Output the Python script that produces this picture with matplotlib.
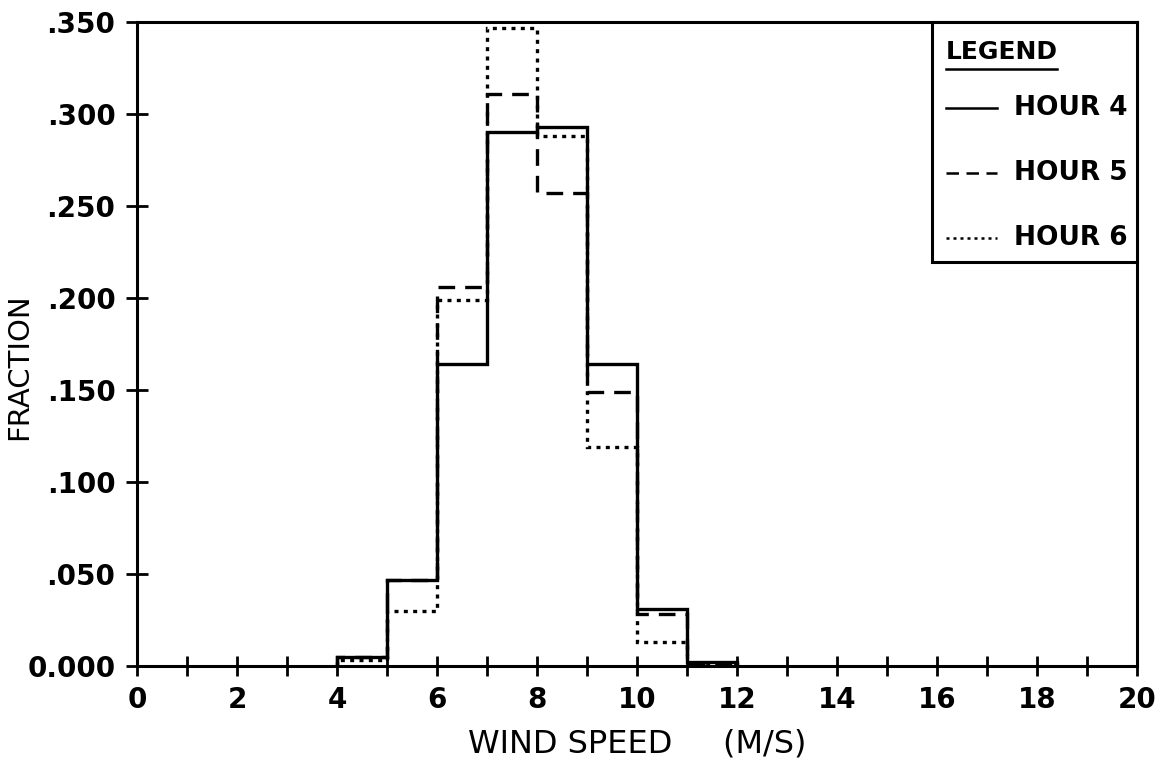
import matplotlib
matplotlib.use("Agg")
import matplotlib.pyplot as plt
from matplotlib.patches import Rectangle
from matplotlib.lines import Line2D

# ---- data ----
bin_edges = [4, 5, 6, 7, 8, 9, 10, 11, 12]
hour4 = [0.005, 0.047, 0.164, 0.290, 0.293, 0.164, 0.031, 0.002]
hour5 = [0.005, 0.047, 0.206, 0.311, 0.257, 0.149, 0.028, 0.001]
hour6 = [0.003, 0.030, 0.199, 0.347, 0.288, 0.119, 0.013, 0.001]
series_labels = ["HOUR 4", "HOUR 5", "HOUR 6"]
x_major = list(range(0, 21, 2))
x_minor = list(range(1, 20, 2))
y_ticks = [0.0, 0.05, 0.10, 0.15, 0.20, 0.25, 0.30, 0.35]
y_ticklabels = ["0.000", ".050", ".100", ".150", ".200", ".250", ".300", ".350"]

plt.rcParams['font.family'] = ['DejaVu Sans']

fig = plt.figure(figsize=(11.63, 7.60), dpi=100)
ax = fig.add_axes([137/1163, 1 - 666/760, 1000/1163, 644/760])

styles = [
    dict(linestyle='-', linewidth=2.4),
    dict(linestyle=(0, (5, 3)), linewidth=2.4),
    dict(linestyle=(0, (1.2, 1.6)), linewidth=2.4),
]
for vals, st in zip([hour4, hour5, hour6], styles):
    ax.stairs(vals, bin_edges, baseline=0, color='black', **st)

ax.set_xlim(0, 20)
ax.set_ylim(0, 0.35)
ax.set_xticks(x_major)
ax.set_xticks(x_minor, minor=True)
ax.set_yticks(y_ticks)
ax.set_yticklabels(y_ticklabels)
ax.tick_params(axis='both', which='both', direction='inout', width=2, color='black')
ax.tick_params(axis='x', which='both', length=15, pad=7)
ax.tick_params(axis='y', which='major', length=16, pad=7.5)
ax.tick_params(axis='both', labelsize=20)
for lab in ax.get_xticklabels() + ax.get_yticklabels():
    lab.set_fontweight('bold')
for sp in ax.spines.values():
    sp.set_linewidth(2.2)

ax.set_xlabel("WIND SPEED     (M/S)", fontsize=23, labelpad=10)
ax.set_ylabel("FRACTION", fontsize=21)
ax.yaxis.set_label_coords(-0.104, 0.464)

# legend box (manual, in axes coordinates)
lx0, ly0 = 0.795, 0.627
ax.add_patch(Rectangle((lx0, ly0), 1 - lx0, 1 - ly0, transform=ax.transAxes,
                       fill=True, facecolor='white', edgecolor='black',
                       linewidth=2.2, zorder=5, clip_on=False))
ax.text(0.809, 0.953, "LEGEND", transform=ax.transAxes, fontsize=18,
        fontweight='bold', va='center', ha='left', zorder=6)
ax.add_line(Line2D([0.809, 0.920], [0.927, 0.927], transform=ax.transAxes,
                   color='black', linewidth=1.8, zorder=6))
ys = [0.866, 0.765, 0.664]
for lab, st, yy in zip(series_labels, styles, ys):
    ax.add_line(Line2D([0.809, 0.860], [yy, yy], transform=ax.transAxes,
                       color='black', zorder=6,
                       linestyle=st['linestyle'], linewidth=1.8))
    ax.text(0.877, yy, lab, transform=ax.transAxes, fontsize=19,
            fontweight='bold', va='center', ha='left', zorder=6)

fig.savefig("out.png", dpi=100)
